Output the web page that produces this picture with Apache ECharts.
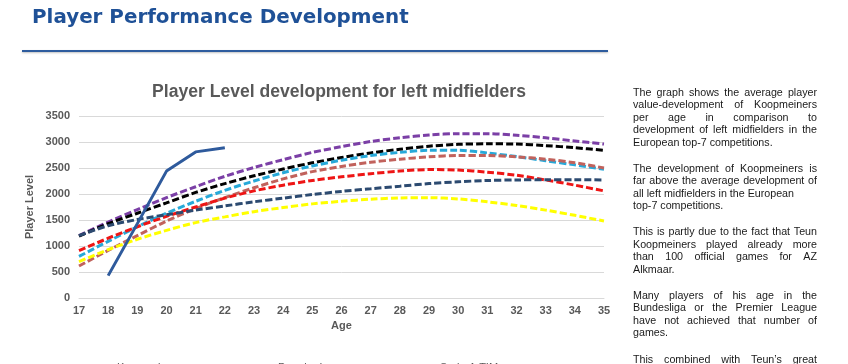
<!DOCTYPE html>
<html>
<head>
<meta charset="utf-8">
<script src="https://cdn.jsdelivr.net/npm/echarts@6/dist/echarts.min.js"></script>
<style>
html,body{margin:0;padding:0;background:#fff;}
#chart{width:848px;height:364px;}
</style>
</head>
<body>
<div id="chart"></div>
<script>
// ---- data ----
var ages = ['17','18','19','20','21','22','23','24','25','26','27','28','29','30','31','32','33','34','35'];
var yTicks = [0, 500, 1000, 1500, 2000, 2500, 3000, 3500];
var koopmeiners   = [null, 430, 1430, 2440, 2810, 2890, null, null, null, null, null, null, null, null, null, null, null, null, null];
var premierLeague = [1200, 1460, 1700, 1930, 2140, 2340, 2510, 2660, 2800, 2910, 3010, 3080, 3135, 3160, 3160, 3130, 3080, 3020, 2960];
var serieA        = [1190, 1430, 1630, 1830, 2030, 2200, 2350, 2480, 2600, 2700, 2790, 2860, 2920, 2955, 2965, 2960, 2930, 2890, 2840];
var bundesliga    = [800, 1090, 1370, 1630, 1860, 2070, 2250, 2410, 2540, 2650, 2740, 2800, 2840, 2840, 2790, 2720, 2640, 2560, 2475];
var laLiga        = [615, 915, 1200, 1480, 1720, 1930, 2120, 2290, 2430, 2530, 2610, 2670, 2715, 2740, 2740, 2715, 2670, 2600, 2500];
var ligue1        = [910, 1150, 1370, 1570, 1750, 1920, 2060, 2170, 2260, 2330, 2390, 2440, 2470, 2460, 2420, 2360, 2270, 2170, 2060];
var eredivisie    = [1200, 1390, 1510, 1600, 1690, 1770, 1850, 1920, 1990, 2050, 2100, 2150, 2200, 2235, 2260, 2270, 2275, 2275, 2270];
var ligaNos       = [700, 930, 1130, 1300, 1450, 1560, 1660, 1740, 1810, 1860, 1900, 1925, 1930, 1905, 1850, 1780, 1690, 1590, 1480];
var seriesNames = ['Koopmeiners', 'Premier League', 'Serie A TIM', 'Bundesliga', 'LaLiga', 'Ligue 1', 'Eredivisie', 'Liga NOS'];
var pageTitle = 'Player Performance Development';
var chartTitle = 'Player Level development for left midfielders';
var xName = 'Age';
var yName = 'Player Level';
var paragraphs = [
  [['The graph shows the average player', true], ['value-development of Koopmeiners', true], ['per age in comparison to', true], ['development of left midfielders in the', true], ['European top-7 competitions.', false]],
  [['The development of Koopmeiners is', true], ['far above the average development of', true], ['all left midfielders in the European', false], ['top-7 competitions.', false]],
  [['This is partly due to the fact that Teun', true], ['Koopmeiners played already more', true], ['than 100 official games for AZ', true], ['Alkmaar.', false]],
  [['Many players of his age in the', true], ['Bundesliga or the Premier League', true], ['have not achieved that number of', true], ['games.', false]],
  [['This combined with Teun\u2019s great', true]]
];

// ---- styles ----
var colors = ['#2E5A9C', '#7B3FA6', '#000000', '#27A9D9', '#C1625C', '#EE1515', '#2C4A70', '#FFFF00'];
var allData = [koopmeiners, premierLeague, serieA, bundesliga, laLiga, ligue1, eredivisie, ligaNos];
var FONT = '"Liberation Sans", Arial, Helvetica, sans-serif';
var mctx = document.createElement('canvas').getContext('2d');
function fitSize(text, weight, family, targetW) {
  mctx.font = weight + ' 20px ' + family;
  return 20 * targetW / mctx.measureText(text).width;
}

var series = allData.map(function (d, i) {
  var solid = i === 0;
  return {
    name: seriesNames[i],
    type: 'line',
    data: d,
    symbol: 'none',
    smooth: solid ? false : 0.3,
    z: solid ? 5 : 2,
    lineStyle: { color: colors[i], width: 3, type: solid ? 'solid' : [7, 3], cap: 'butt' },
    itemStyle: { color: colors[i] }
  };
});

// ---- right-hand text, justified ----
var textFontSize = fitSize('all left midfielders in the European', 'normal', FONT, 161);
var textFont = textFontSize.toFixed(2) + 'px ' + FONT;
mctx.font = textFont;
var textLeft = 633, textRight = 817;
var graphics = [];
var lineIdx = 0;
paragraphs.forEach(function (para, pi) {
  para.forEach(function (ln) {
    var y = 92.7 + lineIdx * 12.5 + pi * 13.6;
    var words = ln[0].split(' ');
    if (ln[1] && words.length > 1) {
      var widths = words.map(function (w) { return mctx.measureText(w).width; });
      var total = widths.reduce(function (a, b) { return a + b; }, 0);
      var gap = (textRight - textLeft - total) / (words.length - 1);
      var x = textLeft;
      words.forEach(function (w, k) {
        graphics.push({ type: 'text', x: x, y: y, silent: true,
          style: { text: w, font: textFont, fill: '#1a1a1a', verticalAlign: 'middle', align: 'left' } });
        x += widths[k] + gap;
      });
    } else {
      graphics.push({ type: 'text', x: textLeft, y: y, silent: true,
        style: { text: ln[0], font: textFont, fill: '#1a1a1a', verticalAlign: 'middle', align: 'left' } });
    }
    lineIdx++;
  });
});

// header title and rule
var HFONT = '"DejaVu Sans", "Liberation Sans", Arial, sans-serif';
var headSize = fitSize(pageTitle, 'bold', HFONT, 377);
graphics.push({ type: 'text', x: 32, y: 18, silent: true,
  style: { text: pageTitle, font: 'bold ' + headSize.toFixed(2) + 'px ' + HFONT, fill: '#1F5197', verticalAlign: 'middle', align: 'left' } });
graphics.push({ type: 'line', silent: true, shape: { x1: 22, y1: 51, x2: 608, y2: 51 },
  style: { stroke: '#2E5C9E', lineWidth: 2, shadowColor: 'rgba(0,0,0,0.25)', shadowBlur: 2, shadowOffsetY: 1 } });

var titleSize = fitSize(chartTitle, 'bold', FONT, 374);

// legends: one per item so each sits at its own x
var legendX = [82, 243, 405];
var legends = seriesNames.map(function (n, i) {
  return {
    data: [n],
    left: legendX[i % 3], top: 357 + Math.floor(i / 3) * 16,
    icon: 'rect', itemWidth: 25, itemHeight: 3,
    textStyle: { color: '#595959', fontSize: 11, fontFamily: FONT }
  };
});

var chart = echarts.init(document.getElementById('chart'), null, { renderer: 'canvas', width: 848, height: 364 });
chart.setOption({
  backgroundColor: '#ffffff',
  animation: false,
  title: {
    text: chartTitle, left: 334, top: 78, textAlign: 'center',
    textStyle: { color: '#595959', fontSize: titleSize, fontWeight: 'bold', fontFamily: FONT }
  },
  grid: { left: 79, right: 244, top: 116, bottom: 66, containLabel: false },
  legend: legends,
  xAxis: {
    type: 'category', data: ages, boundaryGap: false,
    name: xName, nameLocation: 'middle', nameGap: 22,
    nameTextStyle: { color: '#595959', fontSize: 11, fontWeight: 'bold', fontFamily: FONT },
    axisLine: { show: true, lineStyle: { color: '#D9D9D9', width: 1 } },
    axisTick: { show: false },
    axisLabel: { interval: 0, color: '#595959', fontSize: 11, fontWeight: 'bold', fontFamily: FONT, margin: 7 }
  },
  yAxis: {
    type: 'value', min: yTicks[0], max: yTicks[yTicks.length - 1], interval: yTicks[1] - yTicks[0],
    name: yName, nameLocation: 'middle', nameGap: 44, nameRotate: 90, nameMoveOverlap: false,
    nameTextStyle: { color: '#595959', fontSize: 11, fontWeight: 'bold', fontFamily: FONT },
    axisLine: { show: false }, axisTick: { show: false },
    axisLabel: { color: '#595959', fontSize: 11, fontWeight: 'bold', fontFamily: FONT, margin: 9,
      formatter: function (v) { return String(v); } },
    splitLine: { lineStyle: { color: '#D9D9D9', width: 1 } }
  },
  series: series,
  graphic: graphics
});
</script>
</body>
</html>
